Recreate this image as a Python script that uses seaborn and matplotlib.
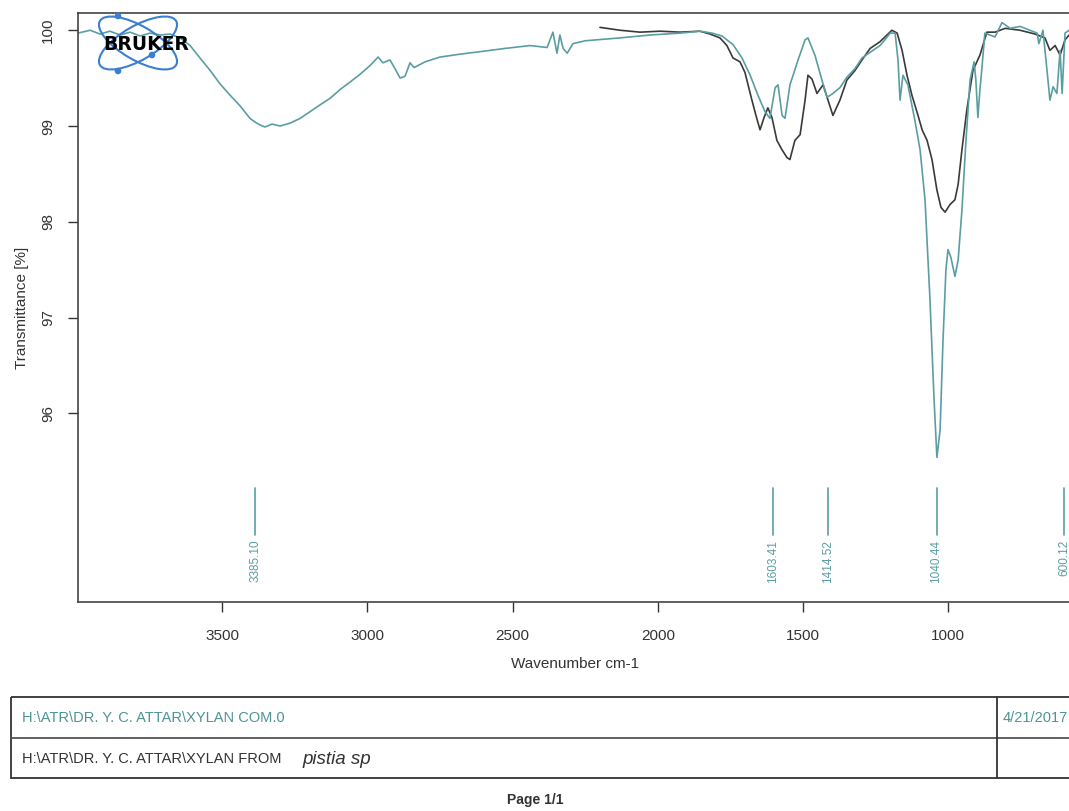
import matplotlib
matplotlib.use("Agg")
import matplotlib.pyplot as plt
from matplotlib.patches import Ellipse, Circle, Rectangle
import numpy as np
import pandas as pd
import seaborn as sns

# sample spectrum (teal), wavenumber cm-1 and transmittance %
wn_sample = [3996, 3954, 3920, 3886, 3851, 3817, 3782, 3748, 3713, 3679, 3645, 3610,
             3576, 3541, 3507, 3472, 3438, 3404, 3386, 3369, 3352, 3328, 3300, 3266,
             3231, 3197, 3163, 3128, 3094, 3059, 3025, 2991, 2963, 2946, 2922, 2905,
             2887, 2870, 2853, 2839, 2801, 2750, 2681, 2602, 2526, 2440, 2381, 2361,
             2347, 2337, 2326, 2312, 2292, 2250, 2209, 2130, 2027, 1923, 1855, 1813,
             1779, 1741, 1710, 1682, 1655, 1631, 1614, 1596, 1586, 1572, 1562, 1545,
             1517, 1493, 1483, 1459, 1435, 1417, 1397, 1373, 1349, 1321, 1297, 1269,
             1235, 1218, 1200, 1183, 1173, 1166, 1156, 1139, 1115, 1097, 1080, 1063,
             1049, 1039, 1028, 1018, 1008, 1001, 991, 977, 966, 953, 939, 925, 911,
             905, 898, 891, 884, 874, 856, 839, 815, 787, 753, 719, 694, 688, 674,
             660, 650, 639, 626, 615, 608, 598, 584, 570]
tr_sample = [99.97, 100.0, 99.96, 99.99, 99.95, 99.98, 99.94, 99.97, 99.95, 99.96, 99.92, 99.84,
             99.71, 99.58, 99.44, 99.32, 99.21, 99.08, 99.04, 99.01, 98.99, 99.02, 99.00, 99.03,
             99.08, 99.15, 99.22, 99.29, 99.38, 99.46, 99.54, 99.63, 99.72, 99.66, 99.69, 99.60,
             99.50, 99.52, 99.66, 99.61, 99.67, 99.72, 99.75, 99.78, 99.81, 99.84, 99.82, 99.98,
             99.76, 99.95, 99.81, 99.76, 99.86, 99.89, 99.90, 99.92, 99.95, 99.97, 99.99, 99.97,
             99.94, 99.85, 99.71, 99.53, 99.32, 99.15, 99.08, 99.40, 99.43, 99.11, 99.08, 99.43,
             99.69, 99.90, 99.92, 99.74, 99.48, 99.30, 99.34, 99.40, 99.51, 99.60, 99.71, 99.77,
             99.84, 99.90, 99.97, 99.97, 99.69, 99.27, 99.53, 99.43, 99.06, 98.75, 98.23, 97.19,
             96.15, 95.54, 95.83, 96.77, 97.50, 97.71, 97.63, 97.43, 97.60, 98.12, 98.85, 99.48, 99.67,
             99.48, 99.09, 99.38, 99.61, 99.97, 99.95, 99.93, 100.08, 100.02, 100.04, 100.00, 99.97, 99.86, 100.00,
             99.58, 99.27, 99.41, 99.34, 99.79, 99.34, 99.97, 100.0, 100.0]

# reference spectrum (dark)
wn_ref = [2199, 2130, 2061, 1992, 1923, 1855, 1820, 1786, 1762, 1741, 1717, 1700,
          1676, 1662, 1648, 1634, 1621, 1607, 1590, 1572, 1555, 1545, 1528, 1510,
          1493, 1483, 1469, 1452, 1431, 1414, 1397, 1373, 1349, 1321, 1297, 1269,
          1235, 1194, 1176, 1159, 1142, 1125, 1104, 1090, 1073, 1056, 1039, 1025,
          1011, 994, 977, 966, 953, 936, 915, 891, 867, 839, 804, 753, 701, 667,
          650, 632, 615, 598, 584, 570]
tr_ref = [100.03, 100.00, 99.98, 99.99, 99.98, 99.99, 99.96, 99.92, 99.84, 99.71, 99.67, 99.56,
          99.27, 99.11, 98.96, 99.09, 99.19, 99.09, 98.85, 98.75, 98.67, 98.65, 98.85, 98.91,
          99.27, 99.53, 99.49, 99.34, 99.43, 99.27, 99.11, 99.27, 99.48, 99.58, 99.69, 99.81,
          99.88, 100.00, 99.97, 99.79, 99.53, 99.32, 99.11, 98.96, 98.85, 98.65, 98.33, 98.15,
          98.10, 98.18, 98.23, 98.39, 98.75, 99.17, 99.58, 99.74, 99.98, 99.98, 100.02, 100.0, 99.96, 99.92,
          99.79, 99.84, 99.74, 99.90, 99.95, 99.95]

peak_pos = [3385.10, 1603.41, 1414.52, 1040.44, 600.12]
peak_labels = ["3385.10", "1603.41", "1414.52", "1040.44", "600.12"]

x_ticks = [3500, 3000, 2500, 2000, 1500, 1000]
y_ticks = [96, 97, 98, 99, 100]

teal = "#5a9ea3"
dark = "#3a3a3a"

sns.set_style("white")
plt.rcParams["font.family"] = ["Liberation Sans", "DejaVu Sans"]

fig = plt.figure(figsize=(10.69, 8.11), dpi=100)
ax = fig.add_axes([78 / 1069, 1 - 602 / 811, (1072 - 78) / 1069, (602 - 13) / 811])

sns.lineplot(x=wn_ref, y=tr_ref, color=dark, lw=1.2, ax=ax)
sns.lineplot(x=wn_sample, y=tr_sample, color=teal, lw=1.2, ax=ax)

ax.set_xlim(3996, 574)
ax.set_ylim(94.03, 100.18)
ax.set_xticks(x_ticks)
ax.set_yticks(y_ticks)
ax.tick_params(axis="both", direction="out", length=7.5, width=1, color="#333333",
               labelsize=11, labelcolor="#333333", bottom=True, left=True)
ax.tick_params(axis="x", pad=12)
ax.tick_params(axis="y", pad=9)
for lab in ax.get_yticklabels():
    lab.set_rotation(90)
    lab.set_va("center")
ax.set_xlabel("Wavenumber cm-1", fontsize=11, color="#333333", labelpad=10)
ax.set_ylabel("Transmittance [%]", fontsize=11, color="#333333", labelpad=9)
for sp in ax.spines.values():
    sp.set_color("#444444")
    sp.set_linewidth(1.2)

# peak markers
for p, lab in zip(peak_pos, peak_labels):
    ax.plot([p, p], [94.73, 95.22], color=teal, lw=1.2)
    ax.text(p, 94.68, lab, rotation=90, ha="center", va="top", fontsize=8.5, color=teal)

# overlay in pixel coordinates for logo and footer
ov = fig.add_axes([0, 0, 1, 1], zorder=5)
ov.set_xlim(0, 1069)
ov.set_ylim(811, 0)
ov.axis("off")
ov.patch.set_alpha(0)

logo_blue = "#3b7fd0"
for ang in (30, -30):
    ov.add_patch(Ellipse((138, 43), 88, 34, angle=ang, fill=False, ec=logo_blue, lw=1.5))
for cx, cy in [(118, 16), (118, 71), (152, 55)]:
    ov.add_patch(Circle((cx, cy), 2.6, color=logo_blue))
ov.text(146, 45, "BRUKER", ha="center", va="center", fontsize=13.5, fontweight="bold",
        family="DejaVu Sans", color="black")

# footer table
ov.add_patch(Rectangle((11, 697), 1075, 81, fill=False, ec="#333333", lw=1.3))
ov.plot([11, 1086], [738, 738], color="#555555", lw=1.3)
ov.plot([997, 997], [697, 778], color="#333333", lw=1.3)
ov.text(22, 718, r"H:\ATR\DR. Y. C. ATTAR\XYLAN COM.0", ha="left", va="center",
        fontsize=10.5, color="#4d9496")
ov.text(22, 759, r"H:\ATR\DR. Y. C. ATTAR\XYLAN FROM", ha="left", va="center",
        fontsize=10.5, color="#333333")
ov.text(302, 759, "pistia sp", ha="left", va="center", fontsize=13.5, style="italic",
        color="#333333")
ov.text(1003, 718, "4/21/2017", ha="left", va="center", fontsize=10.5, color="#4d9496")
ov.text(535, 800, "Page 1/1", ha="center", va="center", fontsize=10, fontweight="bold",
        color="#333333")

fig.savefig("out.png", dpi=100)
